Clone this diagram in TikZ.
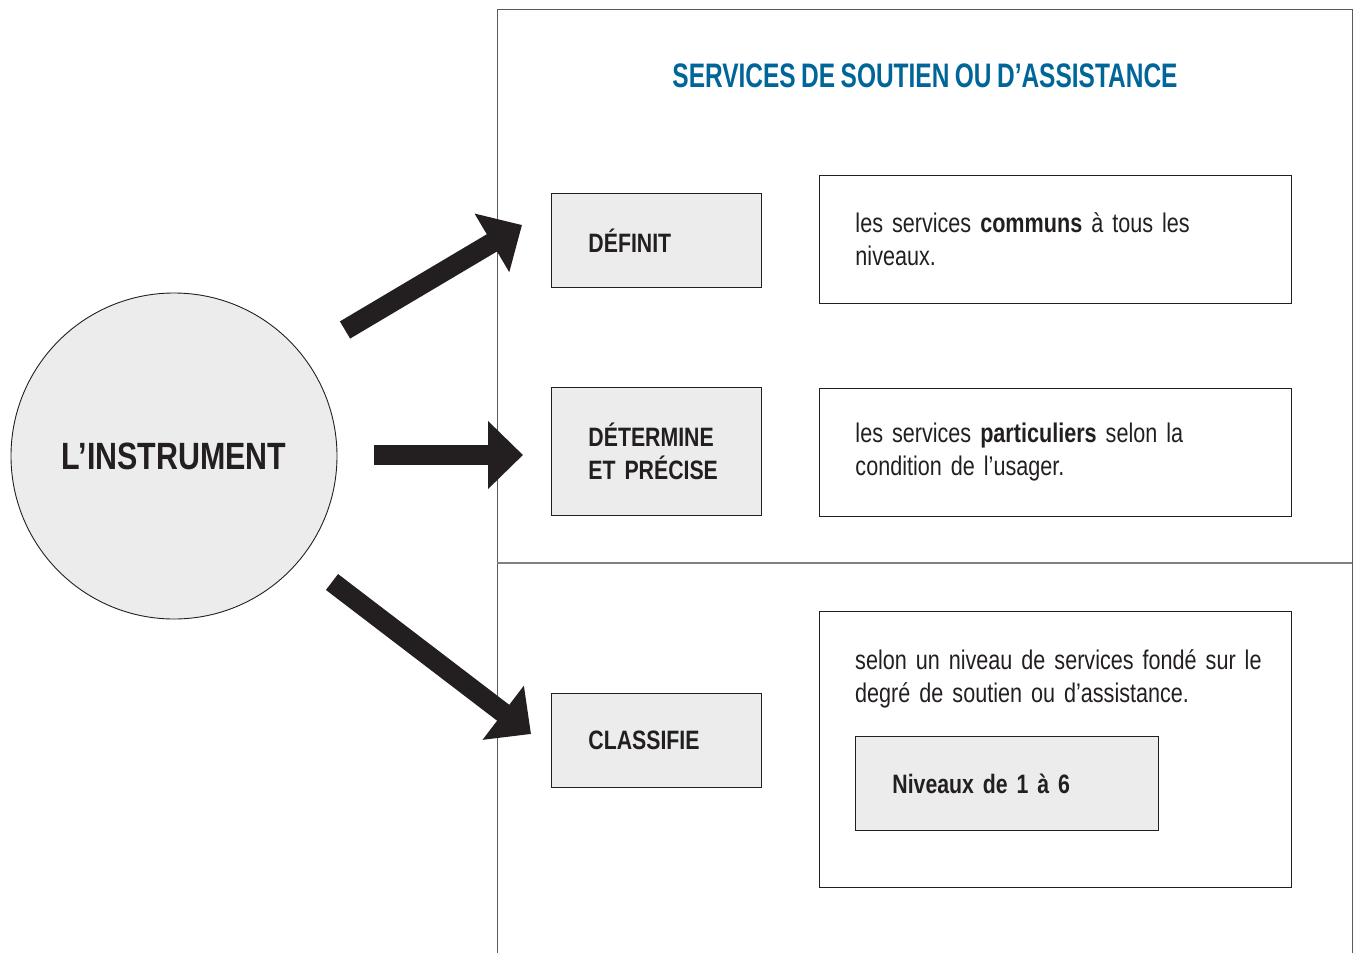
\documentclass[tikz,border=0pt]{standalone}
\usepackage{fontspec}
\setmainfont{Liberation Sans}[FakeStretch=0.8,WordSpace=0.7]
\newfontfamily\titlefont{Liberation Sans}[FakeStretch=0.72,WordSpace=0.8]
\usetikzlibrary{arrows.meta,positioning}
\definecolor{titleblue}{RGB}{0,101,153}
\definecolor{boxgray}{RGB}{236,236,236}
\definecolor{inkgray}{RGB}{35,31,32}
\definecolor{framegray}{RGB}{90,90,90}
\tikzset{
  verbbox/.style={draw=inkgray,fill=boxgray,line width=0.9pt,minimum width=210pt,
    inner xsep=37pt,inner ysep=0pt,text width=136pt,align=left,
    font=\fontsize{26.6}{33}\selectfont\bfseries,text=inkgray},
  textbox/.style={draw=inkgray,line width=0.9pt,minimum width=472pt,minimum height=128pt,
    inner xsep=36pt,text width=400pt,align=left,
    font=\fontsize{27}{33}\selectfont,text=inkgray},
  bodytext/.style={inner sep=0pt,text width=430pt,align=left,
    font=\fontsize{27}{33}\selectfont,text=inkgray},
  bigarrow/.style={draw=inkgray,line width=20pt,-{Triangle[length=35pt,width=66pt]}},
}
\begin{document}
\begin{tikzpicture}[x=1pt,y=-1pt]
  \useasboundingbox (0,0) rectangle (1353,953);
  % cadre
  \draw[framegray,line width=1pt] (497,953) -- (497,9) -- (1352,9) -- (1352,953);
  \draw[gray,line width=1.5pt] (497,563) -- (1352,563);
  \node[font=\titlefont\bfseries\fontsize{34}{40}\selectfont,text=titleblue] (titre) at (925,76)
    {SERVICES DE SOUTIEN OU D’ASSISTANCE};
  % instrument
  \node[circle,draw=inkgray,fill=boxgray,line width=0.9pt,minimum size=326pt,inner sep=0pt,
    text=inkgray,font=\fontsize{38}{44}\selectfont\bfseries] (instrument) at (174,456) {L’INSTRUMENT};
  % verbes
  \node[verbbox,minimum height=94pt,anchor=north west] (definit) at (551,193) {DÉFINIT};
  \node[verbbox,minimum height=128pt,anchor=north west] (determine) at (551,387) {DÉTERMINE\\ET PRÉCISE};
  \node[verbbox,minimum height=94pt,anchor=north west] (classifie) at (551,693) {CLASSIFIE};
  % textes
  \node[textbox,anchor=north west] (communs) at (819,175)
    {les services \textbf{communs} à tous les\\niveaux.};
  \node[textbox,anchor=north west] (particuliers) at (819,388)
    {les services \textbf{particuliers} selon la\\condition de l’usager.};
  \node[textbox,minimum height=276pt,anchor=north west] (niveau) at (819,611) {};
  \node[bodytext,anchor=north west] (niveautxt) at ([xshift=36pt,yshift=-38pt]niveau.north west)
    {selon un niveau de services fondé sur le\\degré de soutien ou d’assistance.};
  \node[verbbox,minimum width=303pt,text width=229pt,minimum height=94pt,anchor=north west] (niveaux) at (855,736)
    {Niveaux de 1 à 6};
  % fleches
  \coordinate (depart1) at (345,330);
  \coordinate (pointe1) at (522,225);
  \coordinate (depart2) at (374,455);
  \coordinate (pointe2) at (523,455);
  \coordinate (depart3) at (332,582);
  \coordinate (pointe3) at (531,734);
  \draw[bigarrow] (depart1) -- (pointe1);
  \draw[bigarrow] (depart2) -- (pointe2);
  \draw[bigarrow] (depart3) -- (pointe3);
\end{tikzpicture}
\end{document}
